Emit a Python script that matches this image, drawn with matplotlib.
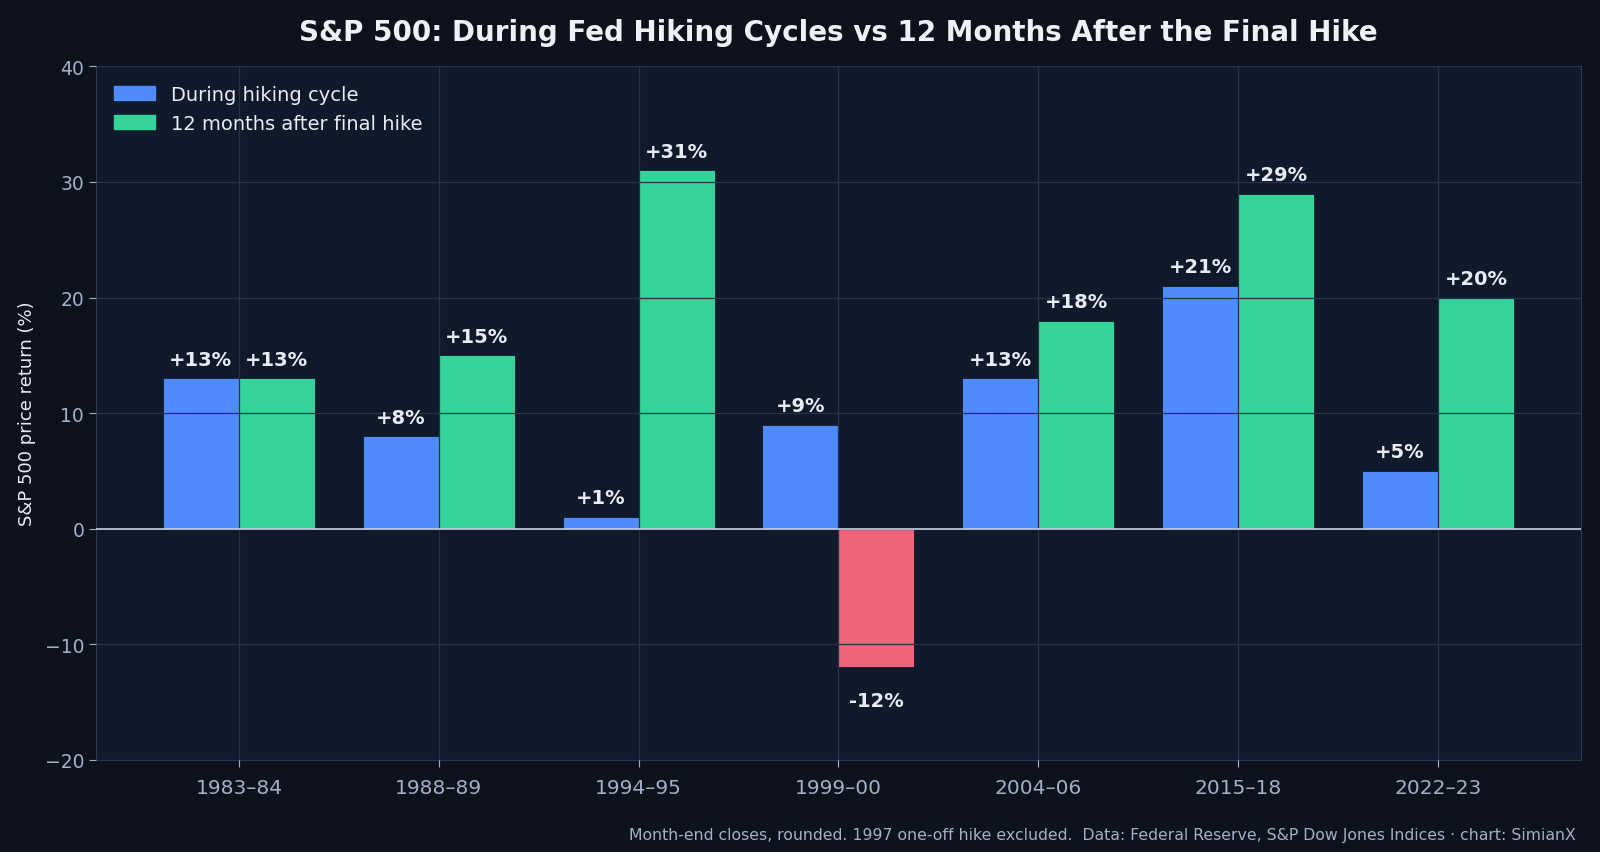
import matplotlib
matplotlib.use("Agg")
import matplotlib.pyplot as plt
import numpy as np
from matplotlib.patches import Patch

plt.rcParams['font.family'] = ['DejaVu Sans']

cycles = ["1983–84", "1988–89", "1994–95", "1999–00", "2004–06", "2015–18", "2022–23"]
during = [13, 8, 1, 9, 13, 21, 5]
after = [13, 15, 31, -12, 18, 29, 20]

FIG_BG = "#0d121c"
AX_BG = "#111a2b"
GRID = "#27334a"
BLUE = "#4f8bff"
GREEN = "#34d399"
RED = "#f0637a"
TXT = "#e8ecf4"
MUTED = "#a4b0c6"

fig = plt.figure(figsize=(16, 8.53), dpi=100, facecolor=FIG_BG)
ax = fig.add_axes([0.06, 0.108, 0.928, 0.813])
ax.set_facecolor(AX_BG)

x = np.arange(len(cycles))
w = 0.38
b1 = ax.bar(x - w/2, during, w, color=BLUE, edgecolor=AX_BG, linewidth=0.6, zorder=1)
cols = [GREEN if v >= 0 else RED for v in after]
b2 = ax.bar(x + w/2, after, w, color=cols, edgecolor=AX_BG, linewidth=0.6, zorder=1)

ax.set_axisbelow(False)
ax.grid(True, color=GRID, linewidth=0.9, zorder=2)
ax.axhline(0, color="#c5cfe0", linewidth=1.2, zorder=3)

for bars, vals in ((b1, during), (b2, after)):
    for r, v in zip(bars, vals):
        cx = r.get_x() + r.get_width()/2
        if v >= 0:
            ax.annotate(f"+{v}%", (cx, v), xytext=(0, 7), textcoords="offset points",
                        ha="center", va="bottom", color=TXT, fontsize=14, fontweight="bold", zorder=4)
        else:
            ax.annotate(f"{v}%", (cx, v), xytext=(0, -17), textcoords="offset points",
                        ha="center", va="top", color=TXT, fontsize=14, fontweight="bold", zorder=4)

ax.set_xlim(-0.715, 6.715)
ax.set_ylim(-20, 40)
ax.set_yticks([-20, -10, 0, 10, 20, 30, 40])
ax.set_xticks(x)
ax.set_xticklabels(cycles)
ax.tick_params(axis="x", colors=MUTED, labelsize=14.5, length=5, pad=8)
ax.tick_params(axis="y", colors=MUTED, labelsize=13.5, length=5)
for s in ax.spines.values():
    s.set_color("#2c3850")
ax.set_ylabel("S&P 500 price return (%)", color=TXT, fontsize=13, labelpad=6)

handles = [Patch(color=BLUE, label="During hiking cycle"),
           Patch(color=GREEN, label="12 months after final hike")]
leg = ax.legend(handles=handles, loc="upper left", frameon=False, fontsize=14,
                labelcolor=TXT, handlelength=2.1, borderaxespad=0.55)

ax.set_title("S&P 500: During Fed Hiking Cycles vs 12 Months After the Final Hike",
             color="#eef1f7", fontsize=20, fontweight="bold", pad=19)
fig.text(0.985, 0.012, "Month-end closes, rounded. 1997 one-off hike excluded.  Data: Federal Reserve, S&P Dow Jones Indices · chart: SimianX",
         ha="right", va="bottom", color=MUTED, fontsize=11.3)

fig.savefig("out.png", dpi=100, facecolor=FIG_BG)
